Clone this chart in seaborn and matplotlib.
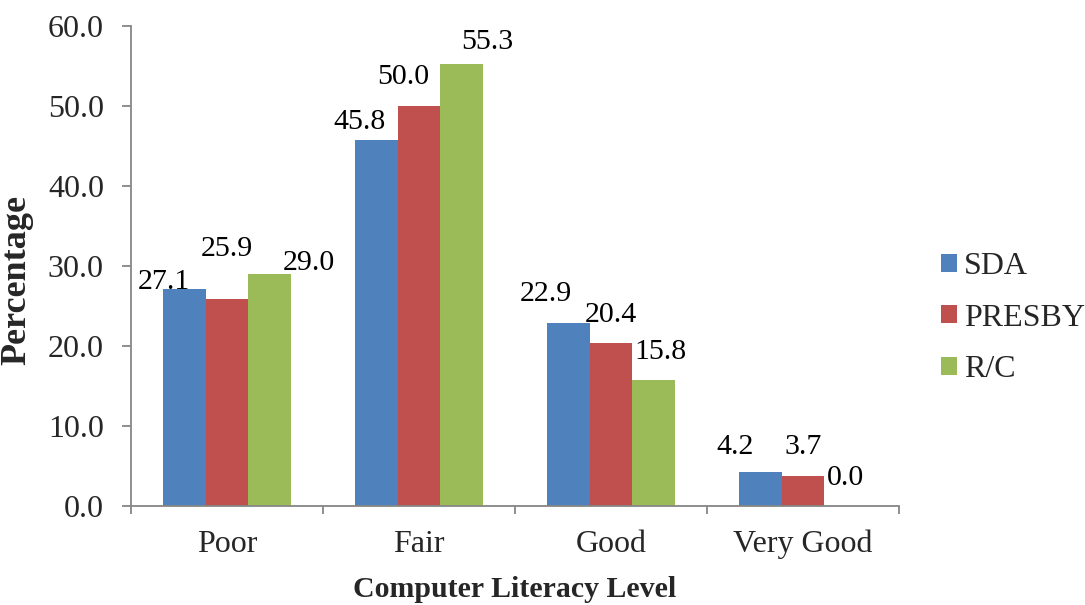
import matplotlib
matplotlib.use("Agg")
import matplotlib.pyplot as plt
import seaborn as sns
import pandas as pd
from matplotlib.patches import Patch

# Data
levels = ["Poor", "Fair", "Good", "Very Good"]
groups = ["SDA", "PRESBY", "R/C"]
sda = [27.1, 45.8, 22.9, 4.2]
presby = [25.9, 50.0, 20.4, 3.7]
rc = [29.0, 55.3, 15.8, 0.0]
yticks = [0, 10, 20, 30, 40, 50, 60]

colors = ["#4F81BD", "#C0504D", "#9BBB59"]

# Hand-placed label nudges (pixels, relative to bar top centre), per group then level
label_nudge = {
    "SDA": [(-20, -7), (-17, -18), (-22, -29), (-25, -25)],
    "PRESBY": [(0, -50), (-16, -29), (0, -28), (0, -29)],
    "R/C": [(39, -11), (26, -22), (7, -28), (0, -28)],
}

df = pd.DataFrame({
    "Level": levels * 3,
    "Group": [g for g in groups for _ in levels],
    "Value": sda + presby + rc,
})

sns.set_theme(style="white")
plt.rcParams["font.family"] = ["Liberation Serif", "DejaVu Serif"]
FS_LABEL = 21.5
FS_TICK = 23
FS_LEG = 23

fig = plt.figure(figsize=(10.85, 6.05), dpi=100)
ax = fig.add_axes([131 / 1085, 99 / 605, 768 / 1085, 480 / 605])

sns.barplot(data=df, x="Level", y="Value", hue="Group", order=levels,
            hue_order=groups, palette=colors, width=0.667, linewidth=0,
            saturation=1, legend=False, ax=ax)

# Value labels
for grp, cont in zip(groups, ax.containers):
    for i, (bar, val) in enumerate(zip(cont, cont.datavalues)):
        cx = bar.get_x() + bar.get_width() / 2
        dx, dy = label_nudge[grp][i]
        ax.annotate(f"{val:.1f}", xy=(cx, val), xytext=(dx, -dy),
                    textcoords="offset pixels", ha="center", va="center",
                    fontsize=FS_LABEL, color="black")

ax.set_ylim(0, 60)
ax.set_xlim(-0.5, len(levels) - 0.5)
ax.set_yticks(yticks)
ax.set_yticklabels([f"{v:.1f}" for v in yticks], fontsize=FS_TICK)
ax.set_xticks(range(len(levels)))
ax.set_xticklabels(levels, fontsize=FS_TICK)
ax.set_xticks([i - 0.5 for i in range(len(levels) + 1)], minor=True)

axis_grey = "#868686"
for side in ["top", "right"]:
    ax.spines[side].set_visible(False)
for side in ["left", "bottom"]:
    ax.spines[side].set_color(axis_grey)
    ax.spines[side].set_linewidth(1.3)

ax.tick_params(axis="y", which="major", direction="out", length=6.5, width=1.3,
               color=axis_grey, pad=13, left=True)
ax.tick_params(axis="x", which="major", length=0, pad=17, bottom=True)
ax.tick_params(axis="x", which="minor", direction="out", length=6, width=1.3,
               color=axis_grey, bottom=True)

ax.set_xlabel("Computer Literacy Level", fontsize=21.5, fontweight="bold", labelpad=12)
ax.set_ylabel("Percentage", fontsize=26, fontweight="bold")
ax.yaxis.set_label_coords(-0.1276, 0.471)

handles = [Patch(facecolor=c, edgecolor="none") for c in colors]
fig.legend(handles, groups, loc="center left", bbox_to_anchor=(941 / 1085, 0.474),
           frameon=False, fontsize=FS_LEG, handlelength=0.5, handleheight=0.5,
           handletextpad=0.22, labelspacing=0.71, borderpad=0, borderaxespad=0)

fig.savefig("out.png", dpi=100, facecolor="white")
